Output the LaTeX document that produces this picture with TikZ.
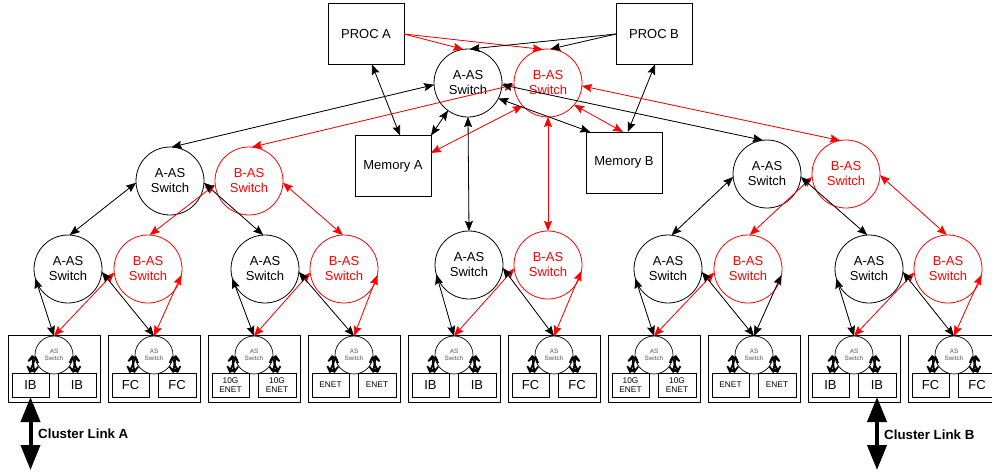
\documentclass[tikz,border=0pt]{standalone}
\usepackage{fontspec}
\setmainfont{Liberation Sans}
\usetikzlibrary{arrows.meta,calc}
\definecolor{bred}{RGB}{255,0,0}
\definecolor{smalltext}{RGB}{85,85,85}

\begin{document}
\begin{tikzpicture}[x=1pt,y=-1pt,
  >={Stealth[length=10pt,width=8pt,inset=1.5pt]},
  link/.style={<->,line width=0.8pt},
  alink/.style={link,draw=black,fill=black},
  blink/.style={link,draw=bred,fill=bred},
  feed/.style={->,line width=0.8pt},
  sw/.style={circle,draw,line width=0.8pt,minimum size=68pt,inner sep=0pt,outer sep=0pt,
    align=center,font=\fontsize{13}{15}\selectfont},
  asw/.style={sw,draw=black,text=black},
  bsw/.style={sw,draw=bred,text=bred},
  bigbox/.style={draw,line width=0.8pt,minimum width=76pt,minimum height=61pt,inner sep=0pt,
    outer sep=0pt,font=\fontsize{13}{15}\selectfont},
  blade/.style={draw,line width=0.8pt,minimum width=92pt,minimum height=67pt,inner sep=0pt,outer sep=0pt},
  bladesw/.style={circle,draw,line width=0.7pt,minimum size=38pt,inner sep=0pt,outer sep=0pt,
    align=center,text=smalltext,font=\fontsize{6.3}{7.2}\selectfont},
  card/.style={draw,fill=white,line width=0.7pt,minimum height=24pt,inner sep=0pt,outer sep=0pt,align=center},
  cardbig/.style={font=\fontsize{13}{15}\selectfont},
  cardsmall/.style={font=\fontsize{8.3}{9.3}\selectfont},
  inarrow/.style={line width=1.8pt,
    {Straight Barb[length=4.5pt,width=9pt]}-{Straight Barb[length=4.5pt,width=9pt]}},
  biglink/.style={line width=4pt,
    {Triangle[length=25pt,width=19pt]}-{Triangle[length=25pt,width=19pt]}},
  linklabel/.style={anchor=base west,inner sep=0pt,font=\bfseries\fontsize{13.3}{15}\selectfont}
]
\fill[white] (0,0) rectangle (992,471);
\clip (0,0) rectangle (992,471);

% processors and memories
\node[bigbox] (procA) at (366,34) {PROC A};
\node[bigbox] (procB) at (654,34) {PROC B};
\node[bigbox] (memA) at (393,166) {Memory A};
\node[bigbox] (memB) at (624,162.5) {Memory B};

% top-level switches
\node[asw] (tA) at (468,83) {A-AS\\Switch};
\node[bsw] (tB) at (548,83) {B-AS\\Switch};

% second-level switches
\node[asw] (lA) at (170,181) {A-AS\\Switch};
\node[bsw] (lB) at (249,181) {B-AS\\Switch};
\node[asw] (rA) at (767,174) {A-AS\\Switch};
\node[bsw] (rB) at (846,174) {B-AS\\Switch};

% third-level switches
\node[asw] (a1) at (68,269) {A-AS\\Switch};
\node[bsw] (b1) at (148,269) {B-AS\\Switch};
\node[asw] (a2) at (265,269) {A-AS\\Switch};
\node[bsw] (b2) at (344,269) {B-AS\\Switch};
\node[asw] (a3) at (469,265) {A-AS\\Switch};
\node[bsw] (b3) at (548,265) {B-AS\\Switch};
\node[asw] (a4) at (668,269) {A-AS\\Switch};
\node[bsw] (b4) at (748,269) {B-AS\\Switch};
\node[asw] (a5) at (869,269) {A-AS\\Switch};
\node[bsw] (b5) at (948,269) {B-AS\\Switch};

% blades with a local switch and two I/O cards
\foreach \k/\lab/\fnt in {1/IB/cardbig,2/FC/cardbig,3/{10G\\ENET}/cardsmall,4/ENET/cardsmall,
    5/IB/cardbig,6/FC/cardbig,7/{10G\\ENET}/cardsmall,8/ENET/cardsmall,9/IB/cardbig,10/FC/cardbig} {
  \pgfmathsetmacro\bx{8+100*(\k-1)}
  \node[blade] (bl\k) at (\bx+46,368.5) {};
  \node[bladesw] (bc\k) at (\bx+46,355) {AS\\Switch};
  \node[card,\fnt,minimum width=37pt] (cl\k) at (\bx+22.5,385) {\lab};
  \node[card,\fnt,minimum width=38pt] (cr\k) at (\bx+69,385) {\lab};
  \draw[inarrow] ($(bc\k.west)+(-3,0)$) -- ($(cl\k.north)+(4,0)$);
  \draw[inarrow] ($(bc\k.west)+(1,1)$) -- ($(cl\k.north)+(-1,0)$);
  \draw[inarrow] ($(bc\k.east)+(3,0)$) -- ($(cr\k.north)+(-4,0)$);
  \draw[inarrow] ($(bc\k.east)+(-1,1)$) -- ($(cr\k.north)+(1,0)$);
}

% processors into the top switches
\draw[feed,draw=bred,fill=bred] (procA.east) -- (tA.98);
\draw[feed,draw=bred,fill=bred] (procA.east) -- (tB.99);
\draw[feed,draw=black,fill=black] (procB.west) -- (tA.87);
\draw[feed,draw=black,fill=black] (procB.west) -- (tB.86);

% processor to memory
\draw[alink] (procA.-79) -- (memA.77);
\draw[alink] (procB.-88) -- (memB.83);

% top switches to memories
\draw[alink] (tA.234) -- (memA.north east);
\draw[blink] (tB.222) -- (memA.19);
\draw[alink] (tA.-27) -- (memB.138);
\draw[blink] (tB.-40) -- (memB.92);

% top switches down the fabric
\draw[alink] (tA.183) -- (lA.87);
\draw[blink] (tB.183) -- (lB.85);
\draw[alink] (tA.-3) -- (rA.97);
\draw[blink] (tB.-5) -- (rB.100);
\draw[alink] (tA.south) -- (a3.north);
\draw[blink] (tB.south) -- (b3.north);

% second level to third level
\draw[alink] (lA.183) -- (a1.87);
\draw[blink] (lB.186) -- (b1.87);
\draw[alink] (lA.-3) -- (a2.93);
\draw[blink] (lB.-3) -- (b2.92);
\draw[alink] (rA.185) -- (a4.84);
\draw[blink] (rB.185) -- (b4.87);
\draw[alink] (rA.-5) -- (a5.93);
\draw[blink] (rB.-2) -- (b5.92);

% third level to the blade switches
\foreach \a/\b/\l/\r/\c in {a1/b1/1/2/bred,a2/b2/3/4/bred,a3/b3/5/6/bred,a4/b4/7/8/black,a5/b5/9/10/bred} {
  \draw[alink] (\a.196) -- (bc\l.north);
  \draw[blink] (\b.186) -- (bc\l.north);
  \draw[alink] (\a.-5) -- (bc\r.north);
  \draw[link,draw=\c,fill=\c] (\b.-10) -- (bc\r.north);
}

% cluster links
\coordinate (cA) at (30.5,470);
\coordinate (cB) at (877,470);
\draw[biglink] (cl1.south) -- (cA);
\draw[biglink] (cr9.south) -- (cB);
\node[linklabel] (lkA) at (38,438) {Cluster Link A};
\node[linklabel] (lkB) at (884,439) {Cluster Link B};
\end{tikzpicture}
\end{document}
